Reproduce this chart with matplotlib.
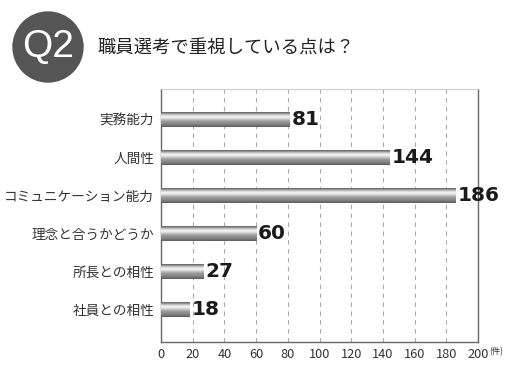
import matplotlib
matplotlib.use("Agg")
import matplotlib.pyplot as plt
import numpy as np
from matplotlib.patches import Circle

plt.rcParams['font.family'] = ['Noto Sans CJK JP', 'DejaVu Sans']

categories = ["実務能力", "人間性", "コミュニケーション能力", "理念と合うかどうか", "所長との相性", "社員との相性"]
values = [81, 144, 186, 60, 27, 18]
xticks = [0, 20, 40, 60, 80, 100, 120, 140, 160, 180, 200]
title = "職員選考で重視している点は？"
badge = "Q2"
unit = "(件)"

fig = plt.figure(figsize=(5.2, 3.7), dpi=100)
ax = fig.add_axes([161/520, 1-342/370, (478-161)/520, (342-89)/370])

y = np.arange(len(categories))
bars = ax.barh(y, values, height=0.4, color="#999999", zorder=3)

# cylindrical gradient
grad_vals = np.array([0.35, 0.45, 0.6, 0.78, 0.9, 0.95, 0.9, 0.8, 0.7, 0.62, 0.58, 0.55, 0.5, 0.45, 0.38])
grad = np.tile(grad_vals[:, None], (1, 2))
for b in bars:
    x0, y0 = b.get_x(), b.get_y()
    w, h = b.get_width(), b.get_height()
    im = ax.imshow(grad, cmap="gray", vmin=0, vmax=1, aspect="auto",
                   extent=(x0, x0 + w, y0 + h, y0), interpolation="bilinear", zorder=4)
    im.set_clip_path(b)

for yi, v in zip(y, values):
    ax.text(v + 1.3, yi, str(v), va="center", ha="left", fontsize=14.5,
            fontweight="bold", color="#1a1a1a", family=["DejaVu Sans"], zorder=5)

ax.set_xlim(0, 200)
ax.set_ylim(5.85, -0.8)
ax.set_xticks(xticks)
ax.set_xticklabels([str(t) for t in xticks], fontsize=9.2, color="#333333")
ax.set_yticks(y)
ax.set_yticklabels(categories, fontsize=9.8, color="#333333")
ax.tick_params(axis="both", length=0, pad=4)
ax.tick_params(axis="y", pad=5)
ax.grid(axis="x", color="#aaaaaa", linestyle=(0, (4, 4)), linewidth=0.8, zorder=1)
for s in ["left", "bottom", "right"]:
    ax.spines[s].set_color("#666666")
    ax.spines[s].set_linewidth(1.0)
ax.spines["top"].set_color("#cccccc")
ax.spines["top"].set_linewidth(0.8)

fig.text(489/520, 1-352/370, unit, fontsize=6, color="#333333", va="center", ha="left")

# header badge
circ = Circle((48, 370-47), 35, transform=None, color="#555555")
fig.patches.append(circ)
circ.set_transform(fig.dpi_scale_trans.inverted() + fig.dpi_scale_trans)
fig.text(48/520, 1-47/370, badge, color="white", fontsize=28, ha="center", va="center",
         family=["Liberation Sans"])
fig.text(97/520, 1-49/370, title, fontsize=13.2, color="#222222", ha="left", va="center")

fig.savefig("out.png", dpi=100)
